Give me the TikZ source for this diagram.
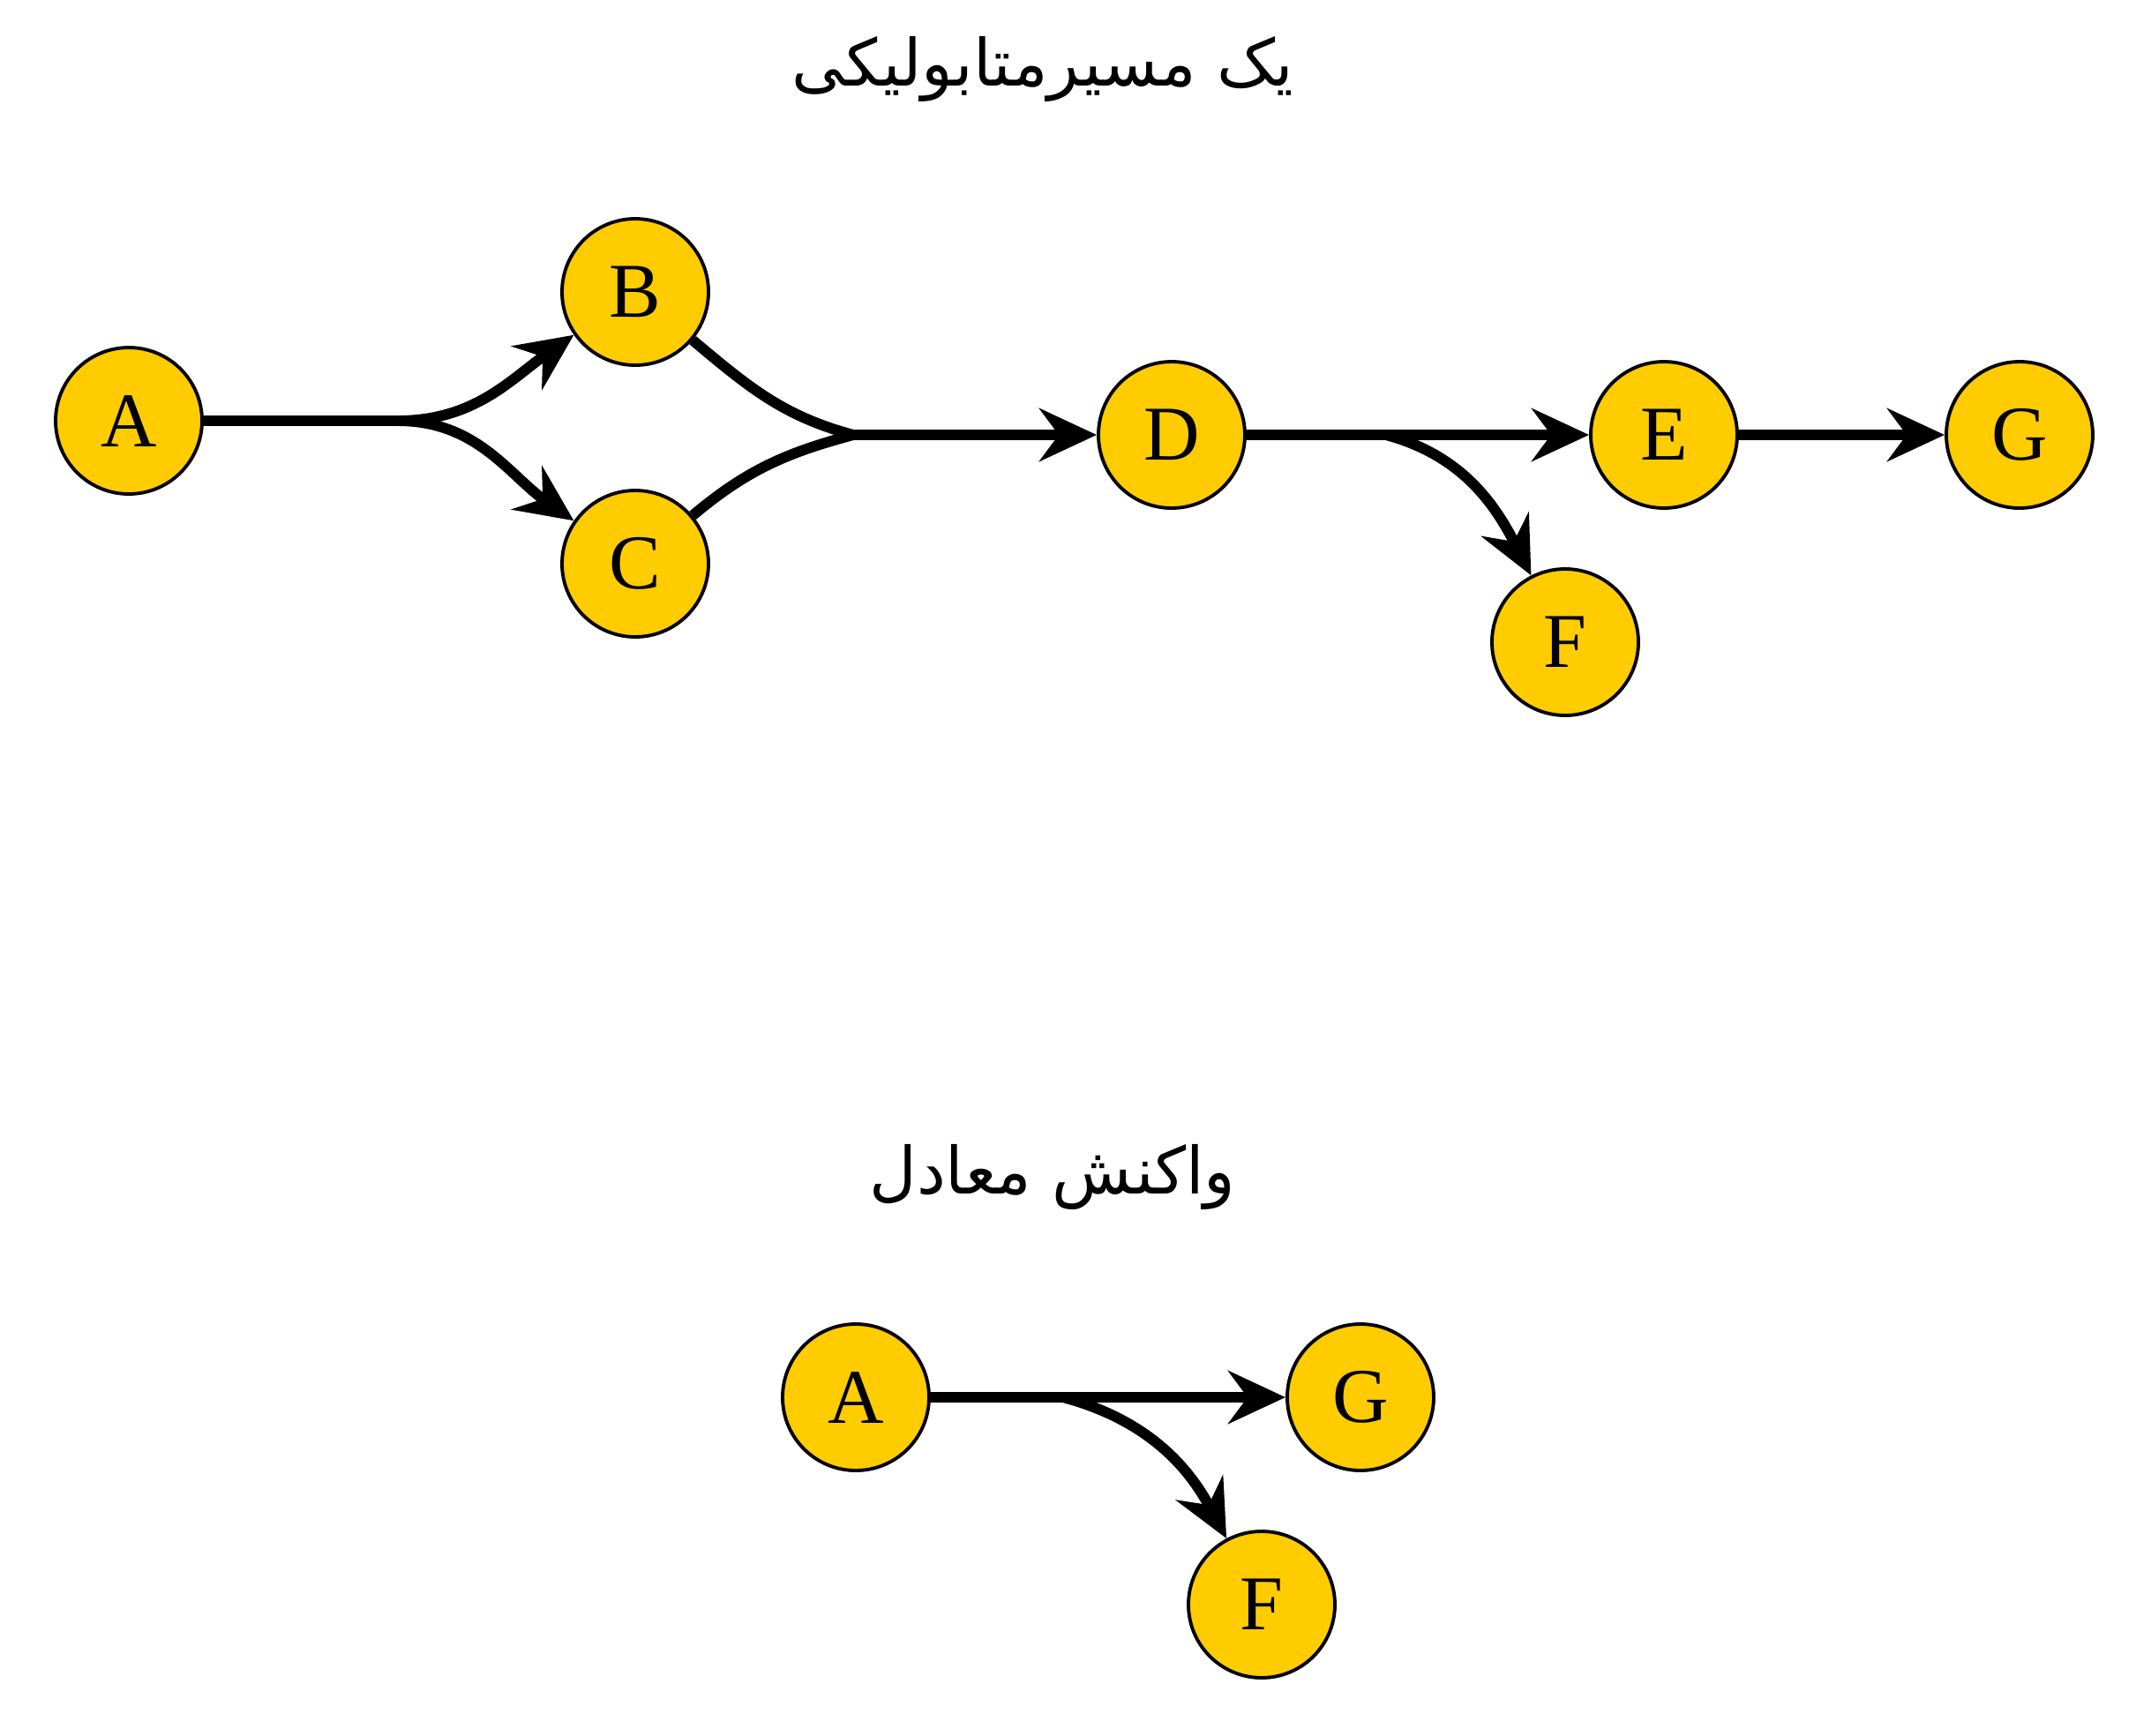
\documentclass[tikz,border=0pt]{standalone}
\usepackage{fontspec}
\setmainfont{Liberation Serif}
\newfontfamily\persianfont[Script=Arabic]{DejaVu Sans}
\TeXXeTstate=1
\usetikzlibrary{positioning, arrows.meta}
\definecolor{metabyellow}{RGB}{255,204,0}
\tikzset{
	>={Stealth[length=6.5mm, width=6mm, inset=2.2mm]}, % big swept arrow heads
	metab/.style={circle, draw, line width=1.1pt, fill=metabyellow, minimum size=1.66cm, inner sep=0pt, font=\fontsize{25}{30}\selectfont}, % every metabolite
	flux/.style={line width=3.4pt}, % thick reaction lines
	title/.style={font=\persianfont\fontsize{21}{26}\selectfont}, % headings
}

\begin{document}
\begin{tikzpicture}[on grid]
			\useasboundingbox (0,0) rectangle (24.38,-19.68);
			% Headings
			\node[title] (title1) at (11.82,-0.78) {\beginR یک مسیرمتابولیکی\endR};
			\node[title] (title2) at (11.93,-13.34) {\beginR واکنش معادل\endR};
			
			% Pathway
			\node[metab] (A) at (1.46,-4.77) {A};
			\node[metab, above right=1.46cm and 5.74cm of A] (B) {B};
			\node[metab, below right=1.62cm and 5.74cm of A] (C) {C};
			\node[metab] (D) at (13.28,-4.93) {D};
			\node[metab, right=5.58cm of D] (E) {E};
			\node[metab, right=4.03cm of E] (G) {G};
			\node[metab, below right=2.35cm and 4.46cm of D] (F) {F};
			\coordinate (j1) at (4.51,-4.77);
			\coordinate (j2) at (9.67,-4.93);
			\coordinate (j3) at (15.71,-4.93);
			
			% Net reaction
			\node[metab] (A2) at (9.70,-15.84) {A};
			\node[metab, right=5.72cm of A2] (G2) {G};
			\node[metab, below right=2.35cm and 4.60cm of A2] (F2) {F};
			\coordinate (j4) at (12.05,-15.84);
			
			% Reactions
			\draw[flux, ->] (A) -- (j1) to[out=0, in=215] (B);
			\draw[flux, ->] (j1) to[out=0, in=145] (C);
			\draw[flux] (B) to[out=-40, in=165] (j2);
			\draw[flux] (C) to[out=40, in=195] (j2);
			\draw[flux, ->] (j2) -- (D);
			\draw[flux, ->] (D) -- (E);
			\draw[flux, ->] (j3) to[out=-15, in=117] (F);
			\draw[flux, ->] (E) -- (G);
			\draw[flux, ->] (A2) -- (G2);
			\draw[flux, ->] (j4) to[out=-15, in=118] (F2);
		\end{tikzpicture}
\end{document}
